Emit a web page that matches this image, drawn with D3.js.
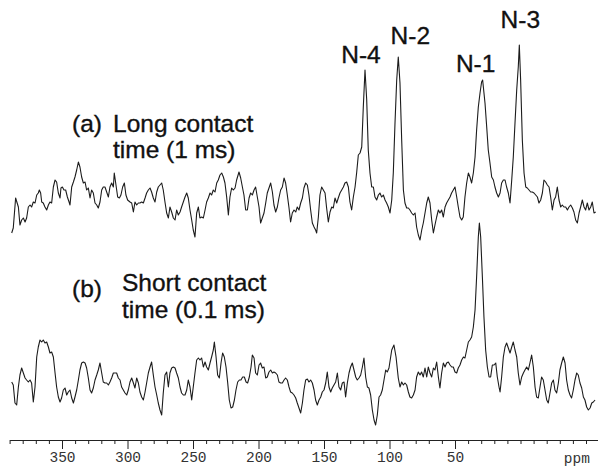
<!DOCTYPE html>
<html><head><meta charset="utf-8">
<script src="https://cdn.jsdelivr.net/npm/d3@7"></script>
<style>
body{margin:0;background:#fff}
svg{display:block}
.lbl{font-family:"Liberation Sans",Arial,sans-serif;font-size:24.5px;fill:#111;stroke:#111;stroke-width:0.35px}
.axis text{font-family:"Liberation Mono","Courier New",monospace;font-size:14.5px;fill:#333}
.axis path,.axis line{stroke:#222}
</style></head><body><div id="chart"></div>
<script>
// (a) long contact time, 1 ms
const ppmA = [388.4,387.2,385.4,383.3,382.1,380.8,379.5,378.2,377.0,375.7,374.4,373.2,371.9,370.6,369.3,368.1,367.3,366.3,365.5,364.3,363.0,361.7,360.4,359.2,357.9,356.6,355.3,354.1,352.8,351.5,350.8,349.7,348.5,347.2,345.9,344.6,343.9,342.6,341.3,340.1,338.8,337.5,336.3,335.0,333.7,332.4,331.2,329.9,328.6,327.4,326.1,324.8,323.5,322.3,321.0,319.7,318.5,317.2,315.9,314.6,313.4,312.1,310.8,310.1,308.8,307.5,306.2,305.0,303.7,302.4,301.2,299.9,298.1,296.8,295.5,294.3,293.0,291.7,290.5,289.2,287.9,286.6,285.4,284.1,282.8,281.6,280.3,279.0,277.7,276.5,275.2,273.9,272.7,271.4,270.1,268.8,267.6,266.3,265.0,263.7,262.5,261.2,259.9,258.7,257.4,256.1,254.8,253.6,252.3,251.0,249.8,248.5,247.2,245.9,
  244.7,243.4,242.1,240.8,239.6,238.3,237.0,235.8,234.5,233.2,231.9,230.7,229.4,228.1,226.8,225.6,224.3,223.0,221.8,220.5,219.2,217.9,216.7,214.9,213.6,212.3,211.1,209.8,208.5,207.2,206.0,204.7,203.4,202.2,200.9,199.6,198.4,197.1,195.8,194.5,193.3,192.0,190.7,189.4,188.2,186.9,185.6,184.4,183.1,181.8,180.5,179.3,178.0,176.7,175.5,174.2,172.9,171.6,170.4,169.1,167.8,166.5,165.3,164.0,162.7,161.5,160.2,158.9,157.6,156.4,155.6,154.3,153.1,151.8,150.5,149.2,148.0,146.7,145.4,144.1,142.9,141.6,140.3,139.1,137.8,136.5,135.2,134.0,132.7,131.4,130.2,128.9,
  127.6,126.3,125.1,123.8,122.5,121.2,120.0,118.7,117.4,116.2,114.9,113.6,112.3,111.1,109.8,108.5,107.3,106.0,104.7,103.4,102.2,100.9,99.6,98.3,97.1,95.8,94.5,93.3,92.0,90.7,89.4,88.2,86.9,85.6,84.4,83.1,81.8,80.5,79.3,78.0,76.7,75.4,74.2,72.9,71.6,70.4,69.1,67.8,66.5,65.3,64.0,62.7,61.5,60.2,58.9,57.6,56.4,55.1,53.8,52.6,51.3,50.0,48.7,47.5,46.2,44.9,43.7,42.4,41.1,39.8,38.6,37.3,36.0,34.7,33.5,32.2,30.9,29.7,28.9,27.1,25.8,24.6,23.3,22.0,20.7,19.5,18.2,16.9,15.6,14.4,13.1,11.8,10.6,9.3,8.0,6.7,5.5,4.2,2.9,1.7,0.9,-0.1,-1.4,-2.7,-4.0,-5.2,-6.5,-7.8,-9.0,-10.3,-11.6,-12.9,-14.1,-15.4,-16.7,-17.9,-19.2,-20.5,-21.8,-23.0,-24.3,-25.6,-26.8,-28.1,-29.4,-30.7,-31.9,-33.2,-34.5,-35.8,-37.0,-38.3,-39.6,-40.8,-42.1,-43.4,-44.7,-45.9,-47.2,-48.5,-49.7,-51.0,-52.3,-53.6,-54.8,-56.1,-57.4];
const intA = [-23,-18,12,3,-15,-10,-8,-12,-8,3,5,3,8,7,15,17,20,17,8,7,3,0,5,8,7,23,30,28,17,12,22,23,20,20,13,8,5,23,28,33,40,48,43,33,27,28,20,22,12,20,17,7,5,2,8,20,23,23,18,13,23,27,23,37,25,13,12,15,23,27,15,10,8,7,-2,8,5,7,7,8,7,12,17,20,22,18,12,8,18,23,25,27,20,8,-3,-8,3,-2,-8,-10,0,-5,-2,3,8,13,17,12,0,-10,-20,-27,-3,3,
  -8,-7,-8,0,8,12,17,15,20,18,27,30,35,37,33,27,13,-5,13,22,20,22,30,38,32,23,15,0,0,12,17,15,20,23,13,3,-13,-8,-3,7,17,22,27,18,5,-2,3,12,20,23,32,27,15,2,-12,-3,0,-2,3,0,7,12,22,27,25,15,0,-13,-17,-20,-23,-7,15,23,20,17,2,-12,-2,3,2,12,7,12,17,20,23,27,28,23,8,0,
  13,23,37,55,57,63,103,140,110,60,37,23,23,13,10,15,17,13,15,10,7,3,-3,10,37,87,130,153,127,70,20,7,2,2,0,-3,-5,-3,-17,-25,-30,-20,-13,-3,7,13,7,-10,-23,-15,-7,0,-3,0,-7,3,7,10,13,17,20,23,13,3,-7,-10,-7,13,27,37,33,27,37,53,80,103,117,128,130,107,83,60,47,33,30,23,17,13,17,27,30,30,23,17,7,30,53,87,120,143,165,130,70,37,23,22,20,18,18,17,15,13,7,10,17,30,28,25,23,13,0,10,13,23,10,3,5,3,3,0,3,5,2,-2,-10,-13,-3,3,10,3,0,7,0,3,8,-3,-2];

// (b) short contact time, 0.1 ms
const ppmB = [388.4,387.2,385.9,384.6,383.3,382.1,380.8,379.5,378.2,377.0,375.7,374.4,373.2,371.9,370.6,369.3,368.1,366.8,365.5,364.3,363.0,361.7,360.4,359.2,357.9,356.6,355.3,354.1,352.8,351.5,350.3,349.0,347.7,346.4,345.2,343.9,342.6,341.3,340.1,338.8,337.5,336.3,335.0,333.7,332.4,331.2,329.9,328.6,327.4,326.1,324.8,323.5,322.3,321.0,319.7,318.5,317.2,315.9,314.6,313.4,312.1,310.8,309.5,308.3,307.0,305.7,304.5,303.2,301.9,300.6,299.4,298.1,296.8,295.5,294.3,293.0,291.7,290.5,289.2,287.9,286.6,285.4,284.1,282.8,281.6,280.3,279.0,277.7,276.5,275.2,273.9,272.7,271.4,270.1,268.8,267.6,266.3,265.0,263.7,262.5,261.2,259.9,258.7,257.4,256.1,254.8,253.6,252.3,251.0,249.8,248.5,247.2,245.9,
  244.7,243.4,242.1,240.8,239.6,238.3,237.0,235.8,234.5,233.7,232.4,231.2,229.9,228.6,227.4,226.1,224.8,223.5,222.3,221.0,219.7,218.4,217.2,215.9,214.6,213.4,212.1,210.8,209.5,208.3,207.0,205.7,204.7,203.4,202.2,200.9,199.6,198.4,197.1,195.8,194.5,193.3,192.0,190.7,189.4,188.2,186.9,185.6,184.4,183.1,181.8,180.5,179.3,178.0,176.7,175.5,174.2,172.9,171.6,170.4,169.1,167.8,166.5,165.3,164.0,162.7,161.5,160.2,158.9,157.6,156.4,155.1,153.8,152.5,151.3,150.0,148.7,147.5,146.2,144.9,143.7,142.4,141.1,139.8,138.6,137.3,136.0,134.7,133.5,132.2,130.9,129.7,128.4,127.1,125.8,124.6,123.3,122.0,120.7,119.5,118.2,116.9,115.7,114.4,113.1,111.8,110.6,109.3,108.0,106.8,105.5,104.2,102.9,101.7,100.4,
  98.3,96.6,95.0,93.3,92.0,90.7,89.4,88.2,86.9,85.6,84.4,83.1,81.8,80.5,79.3,78.0,76.7,75.5,74.2,72.9,71.6,70.4,69.1,67.8,66.5,65.3,64.0,62.7,61.5,60.2,58.9,57.6,56.4,55.1,53.8,52.5,51.3,50.0,48.7,47.5,46.2,44.9,43.6,42.4,41.1,39.8,38.6,37.3,36.0,34.7,33.5,32.2,31.4,30.4,29.1,27.9,26.6,25.3,24.0,22.8,21.5,20.2,18.9,17.7,16.4,15.6,14.4,13.1,11.8,10.6,9.3,8.0,6.7,5.5,4.2,2.9,1.7,0.4,-0.9,-2.2,-3.4,-4.7,-6.0,-7.2,-8.5,-9.8,-11.1,-12.3,-13.6,-14.9,-16.1,-17.4,-18.7,-20.0,-21.2,-22.5,-23.8,-25.1,-26.3,-27.6,-28.9,-30.1,-31.4,-32.7,-34.0,-35.2,-36.5,-37.8,-39.0,-40.3,-41.6,-42.9,-44.1,-45.4,-46.7,-48.0,-49.2,-50.5,-51.8,-53.1,-54.4,-55.6,-56.9];
const intB = [8,5,-13,-15,3,15,22,17,12,10,8,10,7,-12,3,33,43,50,48,50,47,48,43,37,38,33,17,3,-7,-12,-8,0,2,-5,-2,0,-8,-13,-7,0,10,20,27,28,27,22,12,0,-3,2,10,15,20,27,17,8,7,7,5,8,12,17,17,17,12,10,3,0,-3,-5,0,8,12,7,2,12,7,-2,-7,-10,-2,7,17,23,28,15,3,-5,-13,-20,-25,-3,15,18,3,17,22,23,22,17,12,3,-3,-5,-5,0,10,3,-10,3,17,30,32,
  30,32,23,28,23,20,27,33,40,48,33,15,12,27,37,33,23,7,-10,-18,-17,-10,0,8,10,10,13,13,8,7,13,23,35,32,17,15,25,27,22,23,12,13,18,20,17,18,17,15,8,7,7,10,12,10,3,-2,-3,-5,-8,-13,-18,-23,-13,0,10,11,8,10,7,0,-10,-15,-10,-7,-2,0,7,18,3,-2,2,5,8,17,3,0,7,8,-7,7,17,23,27,20,13,10,12,15,23,32,13,3,2,-5,-20,-30,-35,-25,-7,-5,0,10,20,18,22,
  40,45,33,12,3,8,5,7,5,-2,-7,-8,-5,0,13,18,15,18,13,22,13,23,17,13,22,20,28,13,2,17,27,23,27,28,25,23,23,18,17,22,25,30,33,32,40,48,50,53,63,80,113,153,167,153,113,73,40,23,13,13,25,25,27,13,3,-2,13,33,43,47,42,37,43,48,40,33,17,5,13,17,20,23,20,27,35,23,3,-7,-8,3,13,10,0,-10,-13,-3,7,10,0,-3,7,20,27,33,27,10,0,-5,-8,0,10,17,15,7,2,-7,-10,-17,-20,-18,-13,-12,-10];

const majorTicks = [350, 300, 250, 200, 150, 100, 50];
const peakNames = ['N-4', 'N-2', 'N-1', 'N-3'];
const peakPpm = [118.7, 93.3, 28.9, 0.9];
const textA = ['(a)', 'Long contact', 'time (1 ms)'];
const textB = ['(b)', 'Short contact', 'time (0.1 ms)'];

const W = 598, H = 472;
const svg = d3.select('#chart').append('svg').attr('width', W).attr('height', H);
const x = d3.scaleLinear().domain([390, -60]).range([9.6, 599.1]);
const yA = d3.scaleLinear().domain([-40, 170]).range([250, 40]);
const yB = d3.scaleLinear().domain([-40, 170]).range([430, 220]);

const trace = (ppm, ints, y) => svg.append('path')
  .datum(ppm.map((p, i) => [p, ints[i]]))
  .attr('fill', 'none').attr('stroke', '#1c1c1c').attr('stroke-width', 1.1)
  .attr('stroke-linejoin', 'round')
  .attr('d', d3.line().x(d => x(d[0])).y(d => y(d[1])));
trace(ppmA, intA, yA);
trace(ppmB, intB, yB);

// axis: minor ticks every 10 ppm, labelled every 50
const minor = d3.range(-60, 391, 10).filter(v => !majorTicks.includes(v));
svg.append('g').attr('class', 'axis').attr('transform', 'translate(0,440)')
  .call(d3.axisBottom(x).tickValues(minor).tickSize(4).tickSizeOuter(0).tickFormat(''))
  .call(g => g.select('.domain').remove());
svg.append('g').attr('class', 'axis').attr('transform', 'translate(0,440)')
  .call(d3.axisBottom(x).tickValues(majorTicks).tickSize(9).tickSizeOuter(0).tickPadding(3).tickFormat(d3.format('d')));
svg.append('text').attr('x', x(-43)).attr('y', 463)
  .attr('text-anchor', 'middle').attr('font-family', '"Liberation Mono","Courier New",monospace')
  .attr('font-size', 14.5).attr('fill', '#333').text('ppm');

// peak labels
const peakOff = [[-4, 147], [12, 166], [-7, 138], [1, 182]];
peakNames.forEach((n, i) => svg.append('text').attr('class', 'lbl')
  .attr('x', x(peakPpm[i]) + peakOff[i][0]).attr('y', yA(peakOff[i][1]))
  .attr('text-anchor', 'middle').text(n));

// trace captions
const cap = (t, y0, y1, xl, dyTag) => {
  svg.append('text').attr('class', 'lbl').attr('x', 72).attr('y', y0 + dyTag).text(t[0]);
  svg.append('text').attr('class', 'lbl').attr('x', xl).attr('y', y0).text(t[1]);
  svg.append('text').attr('class', 'lbl').attr('x', xl).attr('y', y1).text(t[2]);
};
cap(textA, 132, 158, 113, 0);
cap(textB, 291, 318, 122, 6);
</script></body></html>
